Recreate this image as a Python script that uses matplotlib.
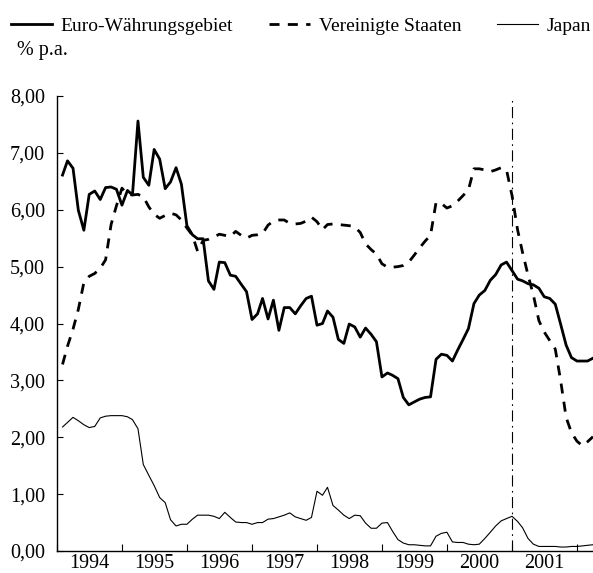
import pandas as pd
import matplotlib
matplotlib.use("Agg")
import matplotlib.pyplot as plt
import matplotlib.dates as mdates
from matplotlib.ticker import FuncFormatter, NullFormatter

plt.rcParams["font.family"] = ["Liberation Serif", "DejaVu Serif"]

# Monatswerte Feb 1994 - Apr 2002, % p.a.
monate = pd.date_range("1994-02-01", periods=99, freq="MS")

euro = [6.61, 6.86, 6.73, 5.99, 5.64, 6.27, 6.33, 6.18, 6.39, 6.40, 6.36,
        6.08, 6.34, 6.26, 7.56, 6.57, 6.43, 7.06, 6.89, 6.37, 6.49, 6.74, 6.45,
        5.72, 5.56, 5.49, 5.49, 4.75, 4.60, 5.08, 5.07, 4.85, 4.83, 4.69, 4.56,
        4.07, 4.17, 4.44, 4.08, 4.41, 3.88, 4.28, 4.28, 4.17, 4.31, 4.44, 4.48,
        3.97, 4.00, 4.22, 4.11, 3.72, 3.65, 3.99, 3.94, 3.76, 3.92, 3.81, 3.68,
        3.06, 3.13, 3.09, 3.03, 2.70, 2.57, 2.62, 2.67, 2.70, 2.71, 3.37, 3.46,
        3.44, 3.34, 3.53, 3.72, 3.91, 4.35, 4.50, 4.58, 4.76, 4.86, 5.03, 5.08,
        4.93, 4.78, 4.75, 4.70, 4.68, 4.62, 4.47, 4.44, 4.34, 3.99, 3.62, 3.40,
        3.34, 3.34, 3.34, 3.39]

usa = [3.28, 3.60, 3.90, 4.25, 4.72, 4.83, 4.88, 4.97, 5.12, 5.74, 6.07,
       6.38, 6.27, 6.26, 6.27, 6.23, 6.05, 5.92, 5.85, 5.90, 5.94, 5.91, 5.82,
       5.68, 5.55, 5.27, 5.46, 5.48, 5.52, 5.57, 5.55, 5.53, 5.62, 5.55, 5.50,
       5.55, 5.56, 5.58, 5.73, 5.80, 5.82, 5.82, 5.76, 5.75, 5.76, 5.80, 5.87,
       5.79, 5.65, 5.74, 5.75, 5.74, 5.73, 5.72, 5.70, 5.60, 5.40, 5.30, 5.22,
       5.05, 4.99, 4.99, 5.00, 5.02, 5.08, 5.20, 5.33, 5.45, 5.55, 6.13, 6.11,
       6.03, 6.07, 6.15, 6.25, 6.35, 6.72, 6.72, 6.70, 6.67, 6.70, 6.74, 6.70,
       6.25, 5.65, 5.25, 4.85, 4.50, 4.05, 3.85, 3.70, 3.55, 3.00, 2.35, 2.08,
       1.93, 1.85, 1.92, 2.01]

japan = [2.18, 2.26, 2.35, 2.29, 2.22, 2.17, 2.19, 2.34, 2.37, 2.38, 2.38,
         2.38, 2.36, 2.31, 2.15, 1.52, 1.33, 1.15, 0.94, 0.85, 0.55, 0.44, 0.47,
         0.47, 0.56, 0.63, 0.63, 0.63, 0.61, 0.57, 0.68, 0.59, 0.51, 0.50, 0.50,
         0.47, 0.50, 0.50, 0.56, 0.57, 0.60, 0.63, 0.67, 0.60, 0.57, 0.54, 0.59,
         1.05, 0.98, 1.12, 0.80, 0.72, 0.63, 0.57, 0.63, 0.62, 0.49, 0.40, 0.40,
         0.49, 0.50, 0.35, 0.20, 0.14, 0.11, 0.11, 0.10, 0.09, 0.09, 0.26, 0.31,
         0.33, 0.16, 0.15, 0.15, 0.12, 0.11, 0.12, 0.22, 0.33, 0.44, 0.53, 0.57,
         0.61, 0.52, 0.41, 0.22, 0.12, 0.08, 0.08, 0.08, 0.08, 0.07, 0.07, 0.08,
         0.08, 0.09, 0.10, 0.11]

fs = 14.5

fig = plt.figure(figsize=(5.93, 5.73), dpi=100)
ax = fig.add_axes([57 / 593, 22 / 573, 536 / 593, 455 / 573])

ax.plot(monate, euro, color="black", linewidth=2.0, label="Euro-Währungsgebiet")
ax.plot(monate, usa, color="black", linewidth=2.0, linestyle=(0, (3.6, 3.0)),
        label="Vereinigte Staaten")
ax.plot(monate, japan, color="black", linewidth=0.8, label="Japan")

ax.axvline(pd.Timestamp("2001-01-01"), color="black", linewidth=0.8,
           linestyle=(0, (10, 4, 1.5, 4)))

ax.set_xlim(pd.Timestamp("1994-01-01"), pd.Timestamp("2002-04-01"))
ax.set_ylim(0, 8)

ax.xaxis.set_major_locator(mdates.YearLocator(base=1, month=1, day=1))
ax.xaxis.set_major_formatter(NullFormatter())
ax.xaxis.set_minor_locator(mdates.MonthLocator(bymonth=7, bymonthday=1))
ax.xaxis.set_minor_formatter(FuncFormatter(lambda v, pos: mdates.num2date(v).strftime("%Y")))
ax.tick_params(axis="x", which="major", direction="in", length=5, width=0.8)
ax.tick_params(axis="x", which="minor", length=0, pad=2.5, labelsize=fs)

ax.set_yticks(range(0, 9))
ax.yaxis.set_major_formatter(FuncFormatter(lambda v, pos: f"{v:.2f}".replace(".", ",")))
ax.tick_params(axis="y", direction="in", length=4, width=0.8, pad=8.5, labelsize=fs)

for s in ["top", "right"]:
    ax.spines[s].set_visible(False)
for s in ["left", "bottom"]:
    ax.spines[s].set_linewidth(1.0)

fig.text(17 / 593, 1 - 51 / 573, "% p.a.", fontsize=fs, va="center", ha="left")

fig.legend(loc="center left", bbox_to_anchor=(11 / 593, 1 - 26 / 573), ncol=3,
           frameon=False, fontsize=14, handlelength=2.1, handletextpad=0.45,
           columnspacing=1.85, borderpad=0, borderaxespad=0)

fig.savefig("out.png", dpi=100)
